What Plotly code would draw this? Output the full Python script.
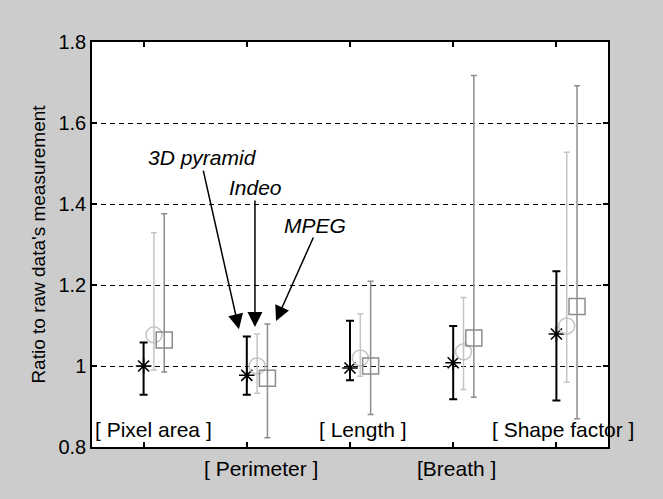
import plotly.graph_objects as go

# ---- data ----
categories = ["[ Pixel area ]", "[ Perimeter ]", "[ Length ]", "[Breath ]", "[ Shape factor ]"]
cat_pos = [1, 2, 3, 4, 5]

pyr_mean = [1.000, 0.977, 0.995, 1.008, 1.079]
pyr_upper = [1.058, 1.073, 1.112, 1.099, 1.234]
pyr_lower = [0.929, 0.929, 0.965, 0.918, 0.915]

indeo_mean = [1.077, 1.000, 1.020, 1.035, 1.099]
indeo_upper = [1.329, 1.079, 1.129, 1.169, 1.528]
indeo_lower = [0.990, 0.933, 0.975, 0.942, 0.960]

mpeg_mean = [1.064, 0.970, 1.000, 1.069, 1.147]
mpeg_upper = [1.376, 1.104, 1.209, 1.717, 1.692]
mpeg_lower = [0.985, 0.823, 0.880, 0.923, 0.870]

y_ticks = [0.8, 1.0, 1.2, 1.4, 1.6, 1.8]
y_ticktext = ["0.8", "1", "1.2", "1.4", "1.6", "1.8"]

FONT = "Liberation Sans, Arial, sans-serif"
BLACK = "#000000"
LIGHT = "#c4c4c4"
GRAY = "#8c8c8c"


def series(mean, upper, lower, offset, color, symbol, size, lw, capw, thick):
    return go.Scatter(
        x=[p + offset for p in cat_pos],
        y=mean,
        mode="markers",
        marker=dict(symbol=symbol, size=size, color=color,
                    line=dict(color=color, width=lw)),
        error_y=dict(type="data", symmetric=False,
                     array=[u - m for u, m in zip(upper, mean)],
                     arrayminus=[m - l for m, l in zip(mean, lower)],
                     color=color, thickness=thick, width=capw),
        showlegend=False,
        hoverinfo="skip",
    )


fig = go.Figure()
fig.add_trace(series(pyr_mean, pyr_upper, pyr_lower, 0.0, BLACK, "asterisk-open", 13, 1.6, 4, 2))
fig.add_trace(series(indeo_mean, indeo_upper, indeo_lower, 0.1, LIGHT, "circle-open", 16, 1.5, 3, 1.5))
fig.add_trace(series(mpeg_mean, mpeg_upper, mpeg_lower, 0.2, GRAY, "square-open", 16, 1.5, 3, 1.5))

# category labels: alternate inside / below the axis
label_x = [1.10, 2.14, 3.13, 4.03, 5.06]
label_y = [0.042, -0.052, 0.042, -0.052, 0.042]
annotations = []
for name, lx, ly in zip(categories, label_x, label_y):
    annotations.append(dict(x=lx, y=ly, xref="x", yref="paper", text=name,
                            showarrow=False, xanchor="center", yanchor="middle",
                            font=dict(family=FONT, size=21, color=BLACK)))

# method labels with arrows
method_text = [("3D pyramid", 1.566, 1.516), ("Indeo", 2.089, 1.44), ("MPEG", 2.661, 1.348)]
for t, tx, ty in method_text:
    annotations.append(dict(x=tx, y=ty, xref="x", yref="y", text="<i>" + t + "</i>",
                            showarrow=False, xanchor="center", yanchor="middle",
                            font=dict(family=FONT, size=21, color=BLACK)))

arrows = [(1.924, 1.091, -36, -160), (2.079, 1.096, 0, -128), (2.283, 1.111, 38, -85)]
for hx, hy, ax, ay in arrows:
    annotations.append(dict(x=hx, y=hy, xref="x", yref="y", text="", showarrow=True,
                            ax=ax, ay=ay, axref="pixel", ayref="pixel",
                            arrowhead=2, arrowsize=2, arrowwidth=1.5,
                            arrowcolor=BLACK, standoff=0))

fig.update_layout(
    width=663, height=499,
    margin=dict(l=92, r=55, t=42, b=52),
    paper_bgcolor="#cccccc",
    plot_bgcolor="#ffffff",
    font=dict(family=FONT, size=20, color=BLACK),
    annotations=annotations,
    xaxis=dict(range=[0.5, 5.5], tickvals=cat_pos, showticklabels=False,
               ticks="inside", ticklen=5, tickwidth=1.5, tickcolor=BLACK,
               showline=True, linecolor=BLACK, linewidth=1.5, mirror="ticks",
               showgrid=False, zeroline=False),
    yaxis=dict(range=[0.8, 1.8], tickvals=y_ticks, ticktext=y_ticktext,
               ticks="inside", ticklen=5, tickwidth=1.5, tickcolor=BLACK,
               showline=True, linecolor=BLACK, linewidth=1.5, mirror="ticks",
               showgrid=True, gridcolor=BLACK, gridwidth=1, griddash="5px,4px",
               zeroline=False, automargin=False,
               tickfont=dict(family=FONT, size=20, color=BLACK),
               title=dict(text="Ratio to raw data's measurement", standoff=8,
                          font=dict(family=FONT, size=19, color=BLACK))),
)

fig.write_html("out.html", config={"displayModeBar": False},
               post_script="document.body.style.margin='0';document.body.style.background='#cccccc';")
